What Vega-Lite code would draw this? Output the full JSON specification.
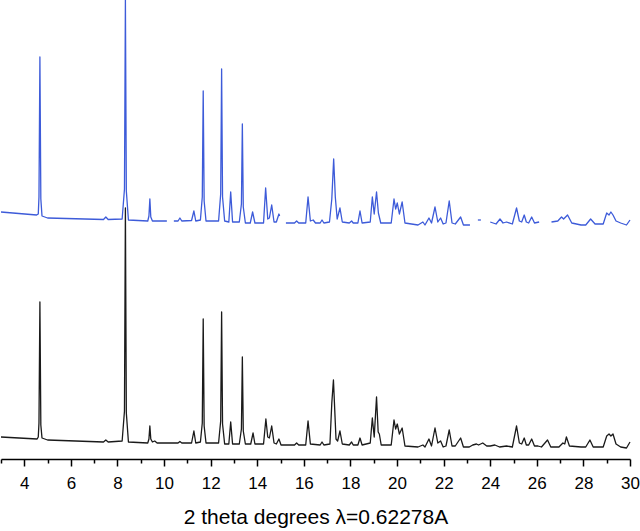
{
  "$schema": "https://vega.github.io/schema/vega-lite/v6.json",
  "width": 629,
  "height": 459,
  "autosize": {"type": "none"},
  "padding": {"left": 1, "top": 0, "right": 10, "bottom": 72},
  "background": "white",
  "config": {"view": {"stroke": null}},
  "data": {"values": [
    {"s":"blue","g":1,"x":3.0,"y":247},{"s":"blue","g":1,"x":4.53,"y":244},{"s":"blue","g":1,"x":4.60,"y":245},{"s":"blue","g":1,"x":4.63,"y":262},{"s":"blue","g":1,"x":4.67,"y":402},{"s":"blue","g":1,"x":4.71,"y":260},{"s":"blue","g":1,"x":4.76,"y":243},{"s":"blue","g":1,"x":5.0,"y":241},{"s":"blue","g":1,"x":7.4,"y":239.5},{"s":"blue","g":1,"x":7.5,"y":242},{"s":"blue","g":1,"x":7.6,"y":239.5},{"s":"blue","g":1,"x":8.2,"y":240},{"s":"blue","g":1,"x":8.3,"y":270},{"s":"blue","g":1,"x":8.34,"y":459},{"s":"blue","g":1,"x":8.38,"y":268},{"s":"blue","g":1,"x":8.47,"y":239},{"s":"blue","g":1,"x":9.3,"y":238},{"s":"blue","g":1,"x":9.35,"y":243},{"s":"blue","g":1,"x":9.39,"y":260},{"s":"blue","g":1,"x":9.43,"y":242},{"s":"blue","g":1,"x":9.5,"y":238},{"s":"blue","g":1,"x":10.12,"y":238},
    {"s":"blue","g":2,"x":10.42,"y":238},{"s":"blue","g":2,"x":10.6,"y":238},{"s":"blue","g":2,"x":10.68,"y":241},{"s":"blue","g":2,"x":10.76,"y":238},{"s":"blue","g":2,"x":11.18,"y":238.5},{"s":"blue","g":2,"x":11.28,"y":248},{"s":"blue","g":2,"x":11.36,"y":238},{"s":"blue","g":2,"x":11.56,"y":239},{"s":"blue","g":2,"x":11.64,"y":262},{"s":"blue","g":2,"x":11.68,"y":368},{"s":"blue","g":2,"x":11.72,"y":258},{"s":"blue","g":2,"x":11.8,"y":238},{"s":"blue","g":2,"x":12.34,"y":238},{"s":"blue","g":2,"x":12.43,"y":265},{"s":"blue","g":2,"x":12.47,"y":390},{"s":"blue","g":2,"x":12.51,"y":262},{"s":"blue","g":2,"x":12.6,"y":238},{"s":"blue","g":2,"x":12.78,"y":237},{"s":"blue","g":2,"x":12.86,"y":267},{"s":"blue","g":2,"x":12.94,"y":237},{"s":"blue","g":2,"x":13.23,"y":237},{"s":"blue","g":2,"x":13.32,"y":255},{"s":"blue","g":2,"x":13.36,"y":335},{"s":"blue","g":2,"x":13.4,"y":252},{"s":"blue","g":2,"x":13.49,"y":236},{"s":"blue","g":2,"x":13.7,"y":236},{"s":"blue","g":2,"x":13.8,"y":247},{"s":"blue","g":2,"x":13.9,"y":236},{"s":"blue","g":2,"x":14.27,"y":236},{"s":"blue","g":2,"x":14.36,"y":271},{"s":"blue","g":2,"x":14.45,"y":240},{"s":"blue","g":2,"x":14.52,"y":241},{"s":"blue","g":2,"x":14.62,"y":254},{"s":"blue","g":2,"x":14.72,"y":237},{"s":"blue","g":2,"x":14.82,"y":237},{"s":"blue","g":2,"x":14.93,"y":245},{"s":"blue","g":2,"x":14.96,"y":243},
    {"s":"blue","g":3,"x":15.23,"y":236},{"s":"blue","g":3,"x":15.6,"y":236},{"s":"blue","g":3,"x":15.69,"y":238},{"s":"blue","g":3,"x":15.78,"y":236},{"s":"blue","g":3,"x":16.08,"y":236},{"s":"blue","g":3,"x":16.18,"y":262},{"s":"blue","g":3,"x":16.28,"y":238},{"s":"blue","g":3,"x":16.4,"y":239},{"s":"blue","g":3,"x":16.5,"y":236},{"s":"blue","g":3,"x":16.7,"y":236},{"s":"blue","g":3,"x":16.78,"y":239},{"s":"blue","g":3,"x":16.86,"y":236},{"s":"blue","g":3,"x":17.1,"y":237},{"s":"blue","g":3,"x":17.2,"y":260},{"s":"blue","g":3,"x":17.28,"y":300},{"s":"blue","g":3,"x":17.35,"y":262},{"s":"blue","g":3,"x":17.43,"y":240},{"s":"blue","g":3,"x":17.55,"y":251},{"s":"blue","g":3,"x":17.65,"y":237},{"s":"blue","g":3,"x":17.95,"y":236},{"s":"blue","g":3,"x":18.05,"y":238},{"s":"blue","g":3,"x":18.12,"y":236},{"s":"blue","g":3,"x":18.32,"y":236},{"s":"blue","g":3,"x":18.41,"y":248},{"s":"blue","g":3,"x":18.5,"y":236},{"s":"blue","g":3,"x":18.85,"y":237},{"s":"blue","g":3,"x":18.94,"y":262},{"s":"blue","g":3,"x":19.02,"y":245},{"s":"blue","g":3,"x":19.12,"y":267},{"s":"blue","g":3,"x":19.2,"y":246},{"s":"blue","g":3,"x":19.3,"y":236},{"s":"blue","g":3,"x":19.75,"y":236},{"s":"blue","g":3,"x":19.87,"y":260},{"s":"blue","g":3,"x":19.94,"y":250},{"s":"blue","g":3,"x":20.01,"y":256},{"s":"blue","g":3,"x":20.1,"y":245},{"s":"blue","g":3,"x":20.22,"y":257},{"s":"blue","g":3,"x":20.34,"y":236},{"s":"blue","g":3,"x":20.9,"y":234},{"s":"blue","g":3,"x":21.11,"y":237},{"s":"blue","g":3,"x":21.2,"y":234},{"s":"blue","g":3,"x":21.37,"y":241},{"s":"blue","g":3,"x":21.48,"y":236},{"s":"blue","g":3,"x":21.63,"y":252},{"s":"blue","g":3,"x":21.75,"y":237},{"s":"blue","g":3,"x":21.87,"y":241},{"s":"blue","g":3,"x":21.98,"y":235},{"s":"blue","g":3,"x":22.1,"y":236},{"s":"blue","g":3,"x":22.24,"y":258},{"s":"blue","g":3,"x":22.36,"y":236},{"s":"blue","g":3,"x":22.5,"y":235},{"s":"blue","g":3,"x":22.73,"y":242},{"s":"blue","g":3,"x":22.85,"y":234},{"s":"blue","g":3,"x":23.13,"y":234},
    {"s":"blue","g":4,"x":23.47,"y":239},{"s":"blue","g":4,"x":23.6,"y":239},
    {"s":"blue","g":5,"x":24.0,"y":237},{"s":"blue","g":5,"x":24.25,"y":235},{"s":"blue","g":5,"x":24.42,"y":240},{"s":"blue","g":5,"x":24.55,"y":236},{"s":"blue","g":5,"x":24.7,"y":237},{"s":"blue","g":5,"x":24.95,"y":235},{"s":"blue","g":5,"x":25.13,"y":251},{"s":"blue","g":5,"x":25.25,"y":238},{"s":"blue","g":5,"x":25.35,"y":237},{"s":"blue","g":5,"x":25.46,"y":244},{"s":"blue","g":5,"x":25.55,"y":237},{"s":"blue","g":5,"x":25.65,"y":236},{"s":"blue","g":5,"x":25.78,"y":242},{"s":"blue","g":5,"x":25.9,"y":236},{"s":"blue","g":5,"x":26.1,"y":237},
    {"s":"blue","g":6,"x":26.63,"y":237},{"s":"blue","g":6,"x":26.9,"y":238},{"s":"blue","g":6,"x":27.06,"y":242},{"s":"blue","g":6,"x":27.15,"y":240},{"s":"blue","g":6,"x":27.32,"y":244},{"s":"blue","g":6,"x":27.5,"y":236},{"s":"blue","g":6,"x":27.9,"y":234},{"s":"blue","g":6,"x":28.1,"y":234},{"s":"blue","g":6,"x":28.31,"y":240},{"s":"blue","g":6,"x":28.5,"y":235},{"s":"blue","g":6,"x":28.85,"y":235},{"s":"blue","g":6,"x":29.0,"y":246},{"s":"blue","g":6,"x":29.1,"y":244},{"s":"blue","g":6,"x":29.18,"y":247},{"s":"blue","g":6,"x":29.27,"y":244},{"s":"blue","g":6,"x":29.4,"y":238},{"s":"blue","g":6,"x":29.6,"y":236},{"s":"blue","g":6,"x":29.85,"y":234},{"s":"blue","g":6,"x":30.0,"y":239},
    {"s":"black","g":7,"x":3.0,"y":22},{"s":"black","g":7,"x":4.55,"y":20},{"s":"black","g":7,"x":4.60,"y":22},{"s":"black","g":7,"x":4.63,"y":36},{"s":"black","g":7,"x":4.67,"y":157},{"s":"black","g":7,"x":4.71,"y":34},{"s":"black","g":7,"x":4.76,"y":21},{"s":"black","g":7,"x":5.0,"y":19},{"s":"black","g":7,"x":7.4,"y":17},{"s":"black","g":7,"x":7.5,"y":19},{"s":"black","g":7,"x":7.6,"y":17},{"s":"black","g":7,"x":8.2,"y":18},{"s":"black","g":7,"x":8.3,"y":48},{"s":"black","g":7,"x":8.34,"y":251},{"s":"black","g":7,"x":8.38,"y":46},{"s":"black","g":7,"x":8.47,"y":17},{"s":"black","g":7,"x":9.3,"y":16},{"s":"black","g":7,"x":9.35,"y":20},{"s":"black","g":7,"x":9.39,"y":33},{"s":"black","g":7,"x":9.43,"y":20},{"s":"black","g":7,"x":9.5,"y":17},{"s":"black","g":7,"x":9.6,"y":18},{"s":"black","g":7,"x":9.7,"y":16},{"s":"black","g":7,"x":10.6,"y":16},{"s":"black","g":7,"x":10.68,"y":17.5},{"s":"black","g":7,"x":10.76,"y":16},{"s":"black","g":7,"x":11.18,"y":16},{"s":"black","g":7,"x":11.28,"y":28},{"s":"black","g":7,"x":11.36,"y":16},{"s":"black","g":7,"x":11.56,"y":17},{"s":"black","g":7,"x":11.64,"y":36},{"s":"black","g":7,"x":11.68,"y":140},{"s":"black","g":7,"x":11.72,"y":33},{"s":"black","g":7,"x":11.8,"y":16},{"s":"black","g":7,"x":12.34,"y":16},{"s":"black","g":7,"x":12.43,"y":38},{"s":"black","g":7,"x":12.47,"y":147},{"s":"black","g":7,"x":12.51,"y":35},{"s":"black","g":7,"x":12.6,"y":15},{"s":"black","g":7,"x":12.78,"y":15},{"s":"black","g":7,"x":12.86,"y":37},{"s":"black","g":7,"x":12.94,"y":15},{"s":"black","g":7,"x":13.23,"y":15},{"s":"black","g":7,"x":13.32,"y":30},{"s":"black","g":7,"x":13.36,"y":102},{"s":"black","g":7,"x":13.4,"y":28},{"s":"black","g":7,"x":13.49,"y":15},{"s":"black","g":7,"x":13.72,"y":15},{"s":"black","g":7,"x":13.82,"y":26},{"s":"black","g":7,"x":13.9,"y":15},{"s":"black","g":7,"x":14.27,"y":15},{"s":"black","g":7,"x":14.37,"y":40},{"s":"black","g":7,"x":14.45,"y":22},{"s":"black","g":7,"x":14.52,"y":21},{"s":"black","g":7,"x":14.62,"y":33},{"s":"black","g":7,"x":14.72,"y":16},{"s":"black","g":7,"x":14.82,"y":15},{"s":"black","g":7,"x":14.93,"y":20},{"s":"black","g":7,"x":15.02,"y":14},{"s":"black","g":7,"x":15.6,"y":14},{"s":"black","g":7,"x":15.69,"y":16},{"s":"black","g":7,"x":15.78,"y":14},{"s":"black","g":7,"x":16.08,"y":14},{"s":"black","g":7,"x":16.18,"y":38},{"s":"black","g":7,"x":16.28,"y":15},{"s":"black","g":7,"x":16.7,"y":14},{"s":"black","g":7,"x":16.78,"y":17},{"s":"black","g":7,"x":16.86,"y":14},{"s":"black","g":7,"x":17.12,"y":15},{"s":"black","g":7,"x":17.2,"y":56},{"s":"black","g":7,"x":17.27,"y":79},{"s":"black","g":7,"x":17.38,"y":20},{"s":"black","g":7,"x":17.45,"y":18},{"s":"black","g":7,"x":17.55,"y":28},{"s":"black","g":7,"x":17.65,"y":15},{"s":"black","g":7,"x":17.95,"y":14},{"s":"black","g":7,"x":18.05,"y":17},{"s":"black","g":7,"x":18.12,"y":14},{"s":"black","g":7,"x":18.32,"y":14},{"s":"black","g":7,"x":18.41,"y":21},{"s":"black","g":7,"x":18.5,"y":14},{"s":"black","g":7,"x":18.85,"y":16},{"s":"black","g":7,"x":18.94,"y":41},{"s":"black","g":7,"x":19.02,"y":22},{"s":"black","g":7,"x":19.12,"y":62},{"s":"black","g":7,"x":19.19,"y":27},{"s":"black","g":7,"x":19.24,"y":25},{"s":"black","g":7,"x":19.32,"y":14},{"s":"black","g":7,"x":19.75,"y":14},{"s":"black","g":7,"x":19.87,"y":39},{"s":"black","g":7,"x":19.94,"y":30},{"s":"black","g":7,"x":20.01,"y":35},{"s":"black","g":7,"x":20.1,"y":25},{"s":"black","g":7,"x":20.22,"y":31},{"s":"black","g":7,"x":20.34,"y":13},{"s":"black","g":7,"x":20.9,"y":12},{"s":"black","g":7,"x":21.11,"y":14},{"s":"black","g":7,"x":21.2,"y":12},{"s":"black","g":7,"x":21.37,"y":20},{"s":"black","g":7,"x":21.48,"y":13},{"s":"black","g":7,"x":21.63,"y":31},{"s":"black","g":7,"x":21.75,"y":16},{"s":"black","g":7,"x":21.87,"y":18},{"s":"black","g":7,"x":21.98,"y":12},{"s":"black","g":7,"x":22.1,"y":13},{"s":"black","g":7,"x":22.24,"y":29},{"s":"black","g":7,"x":22.36,"y":13},{"s":"black","g":7,"x":22.5,"y":13},{"s":"black","g":7,"x":22.73,"y":21},{"s":"black","g":7,"x":22.85,"y":12},{"s":"black","g":7,"x":23.1,"y":12},{"s":"black","g":7,"x":23.25,"y":14},{"s":"black","g":7,"x":23.41,"y":15},{"s":"black","g":7,"x":23.5,"y":14},{"s":"black","g":7,"x":23.68,"y":16},{"s":"black","g":7,"x":23.85,"y":13},{"s":"black","g":7,"x":24.0,"y":13},{"s":"black","g":7,"x":24.2,"y":14},{"s":"black","g":7,"x":24.4,"y":12},{"s":"black","g":7,"x":24.7,"y":13},{"s":"black","g":7,"x":24.95,"y":12},{"s":"black","g":7,"x":25.13,"y":33},{"s":"black","g":7,"x":25.25,"y":16},{"s":"black","g":7,"x":25.35,"y":15},{"s":"black","g":7,"x":25.46,"y":21},{"s":"black","g":7,"x":25.55,"y":14},{"s":"black","g":7,"x":25.65,"y":14},{"s":"black","g":7,"x":25.78,"y":20},{"s":"black","g":7,"x":25.9,"y":13},{"s":"black","g":7,"x":26.05,"y":13},{"s":"black","g":7,"x":26.2,"y":12},{"s":"black","g":7,"x":26.46,"y":19},{"s":"black","g":7,"x":26.6,"y":12},{"s":"black","g":7,"x":26.95,"y":12},{"s":"black","g":7,"x":27.12,"y":16},{"s":"black","g":7,"x":27.2,"y":15},{"s":"black","g":7,"x":27.27,"y":22},{"s":"black","g":7,"x":27.4,"y":13},{"s":"black","g":7,"x":27.9,"y":12},{"s":"black","g":7,"x":28.1,"y":12},{"s":"black","g":7,"x":28.28,"y":19},{"s":"black","g":7,"x":28.42,"y":12},{"s":"black","g":7,"x":28.85,"y":12},{"s":"black","g":7,"x":29.0,"y":23},{"s":"black","g":7,"x":29.1,"y":25},{"s":"black","g":7,"x":29.18,"y":23},{"s":"black","g":7,"x":29.27,"y":25},{"s":"black","g":7,"x":29.4,"y":15},{"s":"black","g":7,"x":29.6,"y":12},{"s":"black","g":7,"x":29.85,"y":11},{"s":"black","g":7,"x":30.0,"y":17}
  ]},
  "mark": {"type": "line", "strokeWidth": 1.3, "clip": false, "strokeJoin": "round"},
  "encoding": {
    "x": {
      "field": "x", "type": "quantitative",
      "scale": {"domain": [3, 30], "nice": false, "zero": false},
      "axis": {
        "values": [3,4,5,6,7,8,9,10,11,12,13,14,15,16,17,18,19,20,21,22,23,24,25,26,27,28,29,30],
        "labelExpr": "datum.value % 2 == 0 ? datum.label : ''",
        "grid": false,
        "domainColor": "black", "domainWidth": 1.5,
        "tickColor": "black", "tickWidth": 1.5,
        "tickSize": {"condition": {"test": "datum.value % 2 == 0", "value": 7}, "value": 4},
        "labelFont": "Liberation Sans", "labelFontSize": 17, "labelColor": "black",
        "labelPadding": 9, "labelFlush": false, "labelOverlap": false,
        "title": "2 theta degrees λ=0.62278A",
        "titleFont": "Liberation Sans", "titleFontSize": 21, "titleFontWeight": "normal",
        "titleColor": "black", "titlePadding": 15
      }
    },
    "y": {
      "field": "y", "type": "quantitative",
      "scale": {"domain": [0, 459], "nice": false, "zero": false},
      "axis": null
    },
    "detail": {"field": "g", "type": "nominal"},
    "color": {
      "field": "s", "type": "nominal",
      "scale": {"domain": ["blue", "black"], "range": ["#3d5bd9", "#1a1a1a"]},
      "legend": null
    },
    "order": {"field": "x", "type": "quantitative"}
  }
}
